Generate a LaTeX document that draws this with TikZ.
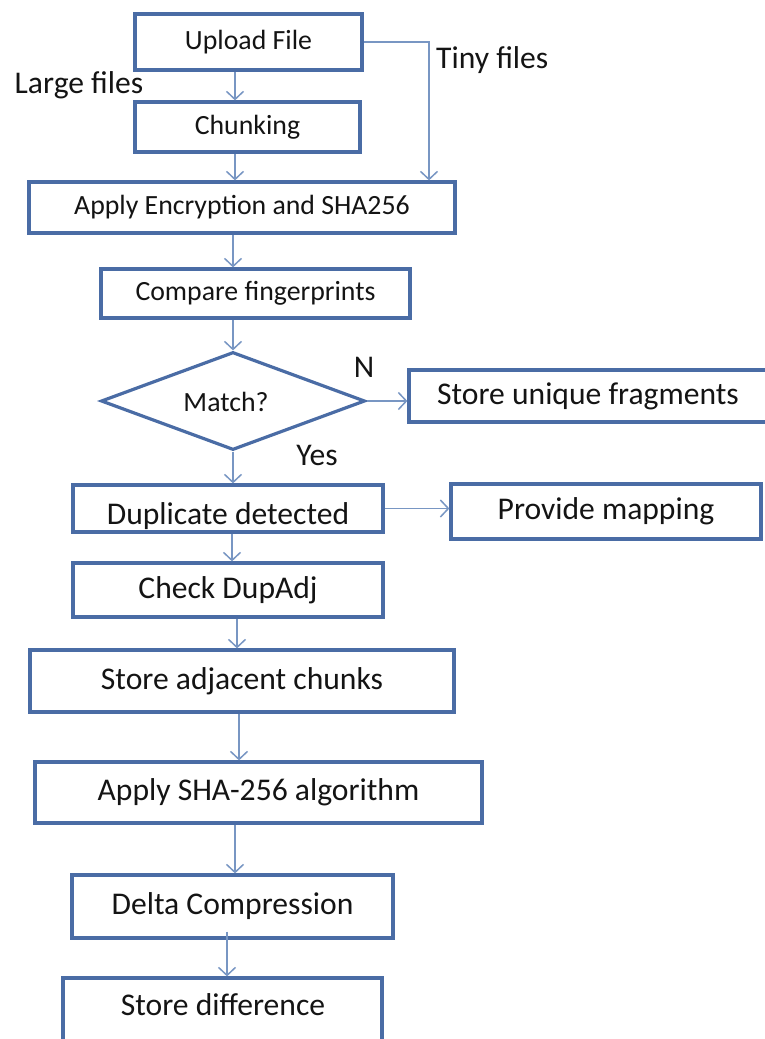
\documentclass[tikz,border=0pt]{standalone}
\usepackage{fontspec}
\setmainfont{Carlito}
\usetikzlibrary{shapes.geometric,arrows.meta}
\definecolor{boxc}{RGB}{74,108,165}
\definecolor{arrc}{RGB}{120,150,195}
\definecolor{txtc}{RGB}{20,20,20}
\tikzset{
  box/.style={draw=boxc, line width=3.2pt, inner sep=0pt, text=txtc, fill=white},
  small/.style={font=\fontsize{27.8}{30}\selectfont},
  big/.style={font=\fontsize{31.6}{34}\selectfont},
  arr/.style={draw=arrc, line width=1.5pt, -{Straight Barb[length=8pt,width=17pt,line width=1.5pt]}},
  lbl/.style={text=txtc, inner sep=0pt}
}
\begin{document}
\begin{tikzpicture}[x=1pt,y=-1pt]
\useasboundingbox (0,0) rectangle (765,1039);
% boxes
\node[box,small,minimum width=227pt,minimum height=56pt] (upload) at (248.5,42) {Upload File};
\node[box,small,minimum width=225pt,minimum height=50pt] (chunk) at (247.5,127) {Chunking};
\node[box,small,minimum width=426pt,minimum height=51pt] (enc) at (242,207.5) {Apply Encryption and SHA256};
\node[box,small,minimum width=309pt,minimum height=49pt] (cmp) at (255.5,293.5) {Compare fingerprints};
\node[box,diamond,minimum width=264pt,minimum height=98pt] (match) at (233,401) {};
\node[lbl,small] (matcht) at (226,402) {Match?};
\node[box,big,minimum width=362pt,minimum height=52pt] (unique) at (590,396) {\hspace*{-4pt}Store unique fragments};
\node[box,big,minimum width=310pt,minimum height=47pt] (dup) at (228,508.5) {};
\node[lbl,big] (dupt) at (228,516) {Duplicate detected};
\node[box,big,minimum width=310pt,minimum height=55pt] (map) at (606,511.5) {Provide mapping};
\node[box,big,minimum width=310pt,minimum height=54pt] (chk) at (228,590) {Check DupAdj};
\node[box,big,minimum width=424pt,minimum height=62pt] (adj) at (242,681) {Store adjacent chunks};
\node[box,big,minimum width=447pt,minimum height=61pt] (sha) at (258.5,792.5) {Apply SHA-256 algorithm};
\node[box,big,minimum width=321pt,minimum height=63pt] (delta) at (232.5,906.5) {Delta Compression};
\node[box,big,minimum width=319pt,minimum height=68pt] (diff) at (222.5,1012) {};
\node[lbl,big] (difft) at (223,1005) {Store difference};
% labels
\node[lbl,big] (large) at (79,85) {Large files};
\node[lbl,big,anchor=west] (tiny) at (436,60) {Tiny files};
\node[lbl,big] (nlab) at (364,367) {N};
\node[lbl,big] (yes) at (317,455) {Yes};
% x positions of connectors
\coordinate (x1) at (235,0);
\coordinate (x2) at (233,0);
\coordinate (x3) at (232,0);
\coordinate (x4) at (237,0);
\coordinate (x5) at (239,0);
\coordinate (x6) at (235,0);
\coordinate (x7) at (227,0);
\coordinate (tx) at (429,0);
% connectors
\draw[arr] (upload.south -| x1) -- (chunk.north -| x1);
\draw[arr] (chunk.south -| x1) -- (enc.north -| x1);
\draw[arr] (upload.east) -- (upload.east -| tx) -- (enc.north -| tx);
\draw[arr] (enc.south -| x2) -- (cmp.north -| x2);
\draw[arr] (cmp.south -| x2) -- (match.north);
\draw[arr] (match.east) -- (match.east -| unique.west);
\draw[arr] (match.south) -- (dup.north -| match.south);
\draw[arr] (dup.east) -- (dup.east -| map.west);
\draw[arr] (dup.south -| x3) -- (chk.north -| x3);
\draw[arr] (chk.south -| x4) -- (adj.north -| x4);
\draw[arr] (adj.south -| x5) -- (sha.north -| x5);
\draw[arr] (sha.south -| x6) -- (delta.north -| x6);
\draw[arr] ([yshift=8pt]delta.south -| x7) -- (diff.north -| x7);
\end{tikzpicture}
\end{document}
